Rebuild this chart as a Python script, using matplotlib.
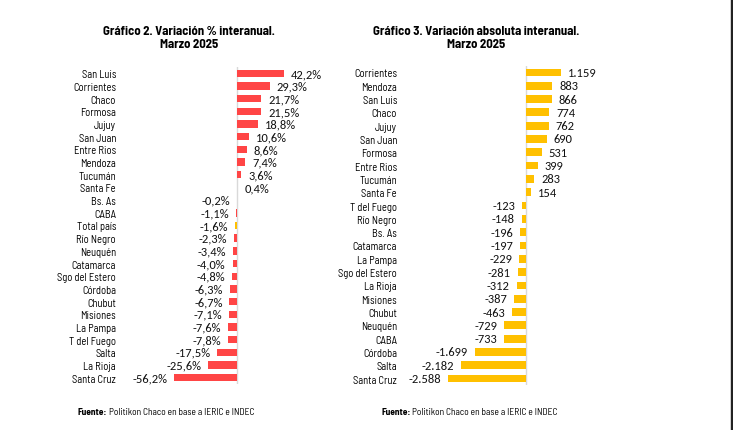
import matplotlib
matplotlib.use("Agg")
import matplotlib.pyplot as plt
import matplotlib.patches as mpatches

# Gráfico 2: variación % interanual
prov_pct = ['San Luis', 'Corrientes', 'Chaco', 'Formosa', 'Jujuy', 'San Juan', 'Entre Rios',
            'Mendoza', 'Tucumán', 'Santa Fe', 'Bs. As', 'CABA', 'Total país', 'Río Negro',
            'Neuquén', 'Catamarca', 'Sgo del Estero', 'Córdoba', 'Chubut', 'Misiones',
            'La Pampa', 'T del Fuego', 'Salta', 'La Rioja', 'Santa Cruz']
var_pct = [42.2, 29.3, 21.7, 21.5, 18.8, 10.6, 8.6, 7.4, 3.6, 0.4, -0.2, -1.1, -1.6, -2.3,
           -3.4, -4.0, -4.8, -6.3, -6.7, -7.1, -7.6, -7.8, -17.5, -25.6, -56.2]

# Gráfico 3: variación absoluta interanual
prov_abs = ['Corrientes', 'Mendoza', 'San Luis', 'Chaco', 'Jujuy', 'San Juan', 'Formosa',
            'Entre Rios', 'Tucumán', 'Santa Fe', 'T del Fuego', 'Río Negro', 'Bs. As',
            'Catamarca', 'La Pampa', 'Sgo del Estero', 'La Rioja', 'Misiones', 'Chubut',
            'Neuquén', 'CABA', 'Córdoba', 'Salta', 'Santa Cruz']
var_abs = [1159, 883, 866, 774, 762, 690, 531, 399, 283, 154, -123, -148, -196, -197, -229,
           -281, -312, -387, -463, -729, -733, -1699, -2182, -2588]

ROJO = '#FF4545'
ORO = '#FFC000'
COND = ['Barlow Semi Condensed', 'DejaVu Sans']
NUM = ['Carlito', 'DejaVu Sans']

W, H = 733, 431
fig = plt.figure(figsize=(W / 100, H / 100), dpi=100)


def px_axes(x0, x1, y0, y1):
    # caja en pixeles (desde arriba a la izquierda) -> fraccion de figura
    return fig.add_axes([x0 / W, 1 - y1 / H, (x1 - x0) / W, (y1 - y0) / H])


def fmt_pct(v):
    return f"{v:.1f}%".replace('.', ',')


def fmt_abs(v):
    return f"{v:,}".replace(',', '.')


def dibujar(ax, cats, vals, colores, fmt, pad_pt):
    n = len(cats)
    ax.barh(range(n), vals, height=0.58, color=colores)
    ax.set_ylim(n - 0.5, -0.5)
    ax.axvline(0, color='#d9d9d9', lw=1, zorder=0)
    for i, v in enumerate(vals):
        if v >= 0:
            ax.annotate(fmt(v), (v, i), xytext=(5, 0), textcoords='offset points',
                        ha='left', va='center', fontsize=9, family=NUM, color='#111111')
        else:
            ax.annotate(fmt(v), (v, i), xytext=(-5, 0), textcoords='offset points',
                        ha='right', va='center', fontsize=9, family=NUM, color='#111111')
    ax.set_yticks(range(n))
    ax.set_yticklabels(cats, family=COND, fontsize=7.6, color='#000000')
    ax.tick_params(axis='y', length=0, pad=pad_pt)
    ax.set_xticks([])
    for s in ax.spines.values():
        s.set_visible(False)
    ax.patch.set_alpha(0)


# izquierda: cero en x=237 px, 1.12 px por punto
ax1 = px_axes(237 - 60 * 1.12, 237 + 50 * 1.12, 75 - 0.5 * 13.77, 378 + 0.5 * 13.77)
ax1.set_xlim(-60, 50)
col1 = [ORO if p == 'Total país' else ROJO for p in prov_pct]
dibujar(ax1, prov_pct, var_pct, col1, fmt_pct, (237 - 60 * 1.12 - 116) * 0.72)

# derecha: cero en x=526 px, 0.03 px por unidad
ax2 = px_axes(526 - 2800 * 0.03, 526 + 1400 * 0.03, 74 - 0.5 * 14.52, 379 + 0.5 * 14.52)
ax2.set_xlim(-2800, 1400)
dibujar(ax2, prov_abs, var_abs, ORO, fmt_abs, (526 - 2800 * 0.03 - 397) * 0.72)

# títulos
fig.text(189 / W, 1 - 38 / H, 'Gráfico 2. Variación % interanual.\nMarzo 2025', ha='center',
         va='center', fontsize=9.2, fontweight='bold', family=COND, linespacing=1.25)
fig.text(476 / W, 1 - 38 / H, 'Gráfico 3. Variación absoluta interanual.\nMarzo 2025', ha='center',
         va='center', fontsize=9.2, fontweight='bold', family=COND, linespacing=1.25)

# fuentes
for x0 in (78, 381):
    t = fig.text(x0 / W, 1 - 413 / H, 'Fuente:', ha='left', va='center', fontsize=6.8,
                 fontweight='bold', family=COND)
    fig.canvas.draw()
    bb = t.get_window_extent()
    fig.text((bb.x1 + 2) / W, 1 - 413 / H, 'Politikon Chaco en base a IERIC e INDEC',
             ha='left', va='center', fontsize=6.8, family=COND)

# borde oscuro a la derecha
fig.patches.append(mpatches.Rectangle((1 - 2.5 / W, 0), 2.5 / W, 1, transform=fig.transFigure,
                                      color='#222222', zorder=5))

fig.savefig('out.png', dpi=100)
